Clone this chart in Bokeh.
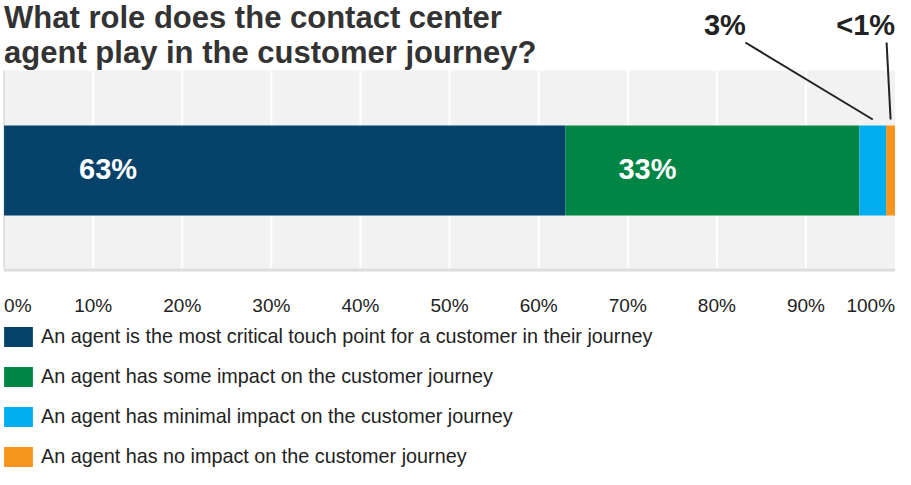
from bokeh.plotting import figure
from bokeh.models import ColumnDataSource, Range1d, Label, Arrow
from bokeh.core.properties import value
from bokeh.embed import file_html
from bokeh.resources import INLINE

# ---------------- data ----------------
title_lines = ["What role does the contact center", "agent play in the customer journey?"]
categories = [
    "An agent is the most critical touch point for a customer in their journey",
    "An agent has some impact on the customer journey",
    "An agent has minimal impact on the customer journey",
    "An agent has no impact on the customer journey",
]
values = [63, 33, 3, 1]
value_labels = ["63%", "33%", "3%", "<1%"]
colors = ["#07426b", "#008545", "#00aeef", "#f7941d"]
tick_values = [0, 10, 20, 30, 40, 50, 60, 70, 80, 90, 100]
tick_labels = ["0%", "10%", "20%", "30%", "40%", "50%", "60%", "70%", "80%", "90%", "100%"]

# ---------------- layout constants ----------------
W, H = 895, 469
BAND_TOP_PX, BAND_BOTTOM_PX = 70, 268
BAND_H = BAND_BOTTOM_PX - BAND_TOP_PX       # y data units == pixels above band bottom
BAR_Y, BAR_H = 98, 90
FONT = "Liberation Sans"
DARK = "#222222"

def y_px(canvas_y):
    """convert a canvas pixel row into the y data unit used below"""
    return BAND_BOTTOM_PX - canvas_y

lefts, rights = [], []
acc = 0
for v in values:
    lefts.append(acc)
    acc += v
    rights.append(acc)
mids = [(l + r) / 2 for l, r in zip(lefts, rights)]

p = figure(width=W, height=H, output_backend="svg", toolbar_location=None,
           x_range=Range1d(-0.4, 100.05),
           y_range=Range1d(y_px(H), y_px(0)),
           x_axis_type=None, y_axis_type=None, min_border=0)
p.background_fill_color = "white"
p.border_fill_color = "white"
p.outline_line_color = None

# grey plotting band + white grid lines
p.quad(left=[tick_values[0]], right=[tick_values[-1]], bottom=[0], top=[BAND_H],
       fill_color="#f2f2f2", line_color=None)
inner_ticks = tick_values[1:-1]
p.segment(x0=inner_ticks, y0=[0] * len(inner_ticks), x1=inner_ticks,
          y1=[BAND_H] * len(inner_ticks), line_color="white", line_width=2)
p.segment(x0=[tick_values[0]], y0=[0], x1=[tick_values[0]], y1=[BAND_H],
          line_color="#dadada", line_width=1.5)
p.segment(x0=[tick_values[0]], y0=[-1.5], x1=[tick_values[-1]], y1=[-1.5],
          line_color="#dcdcdc", line_width=3)

# stacked bar
src = ColumnDataSource(dict(y=[BAR_Y] * len(values), left=lefts, right=rights,
                            color=colors, label=categories))
p.hbar(y="y", left="left", right="right", height=BAR_H, fill_color="color",
       line_color="color", line_width=0, source=src, legend_field="label")

# in-bar labels (first two segments)
p.text(x=lefts[:2], y=[BAR_Y + 2] * 2, text=value_labels[:2], x_offset=[75, 53],
       text_color="white", text_font=value(FONT), text_font_style="bold",
       text_font_size="29px", text_align="left", text_baseline="middle")

# outside labels with leader lines (last two segments)
lab_y = y_px(24)
p.add_layout(Label(x=80.9, y=lab_y, text=value_labels[2], text_font=FONT,
                   text_font_style="bold", text_font_size="29px", text_color=DARK,
                   text_align="center", text_baseline="alphabetic"))
p.add_layout(Label(x=100, y=lab_y, text=value_labels[3], text_font=FONT,
                   text_font_style="bold", text_font_size="29px", text_color=DARK,
                   text_align="right", text_baseline="alphabetic"))
lead_top, lead_bot = y_px(42), BAR_Y + BAR_H / 2 + 6
p.add_layout(Arrow(end=None, x_start=83.2, y_start=lead_top, x_end=mids[2],
                   y_end=lead_bot, line_color=DARK, line_width=2))
p.add_layout(Arrow(end=None, x_start=mids[3] - 0.45, y_start=lead_top, x_end=mids[3],
                   y_end=lead_bot, line_color=DARK, line_width=2))

# title
for line, cy in zip(title_lines, [17, 52]):
    p.add_layout(Label(x=0, y=y_px(cy), text=line, text_font=FONT,
                       text_font_style="bold", text_font_size="31px",
                       text_color="#333333", text_align="left",
                       text_baseline="alphabetic"))

# tick labels
aligns = ["left"] + ["center"] * (len(tick_values) - 2) + ["right"]
p.text(x=tick_values, y=[y_px(305)] * len(tick_values), text=tick_labels,
       text_align=aligns, text_font=value(FONT), text_font_size="19px",
       text_color=DARK, text_baseline="alphabetic")

# legend
lg = p.legend[0]
lg.location = (0, 0)
lg.orientation = "vertical"
lg.glyph_width = 36
lg.glyph_height = 25
lg.label_standoff = 5
lg.label_height = 25
lg.spacing = 15
lg.padding = 0
lg.margin = 0
lg.border_line_color = None
lg.background_fill_alpha = 0
lg.label_text_font = FONT
lg.label_text_font_size = "19.8px"
lg.label_text_color = DARK

open("out.html", "w").write(file_html(p, INLINE))
